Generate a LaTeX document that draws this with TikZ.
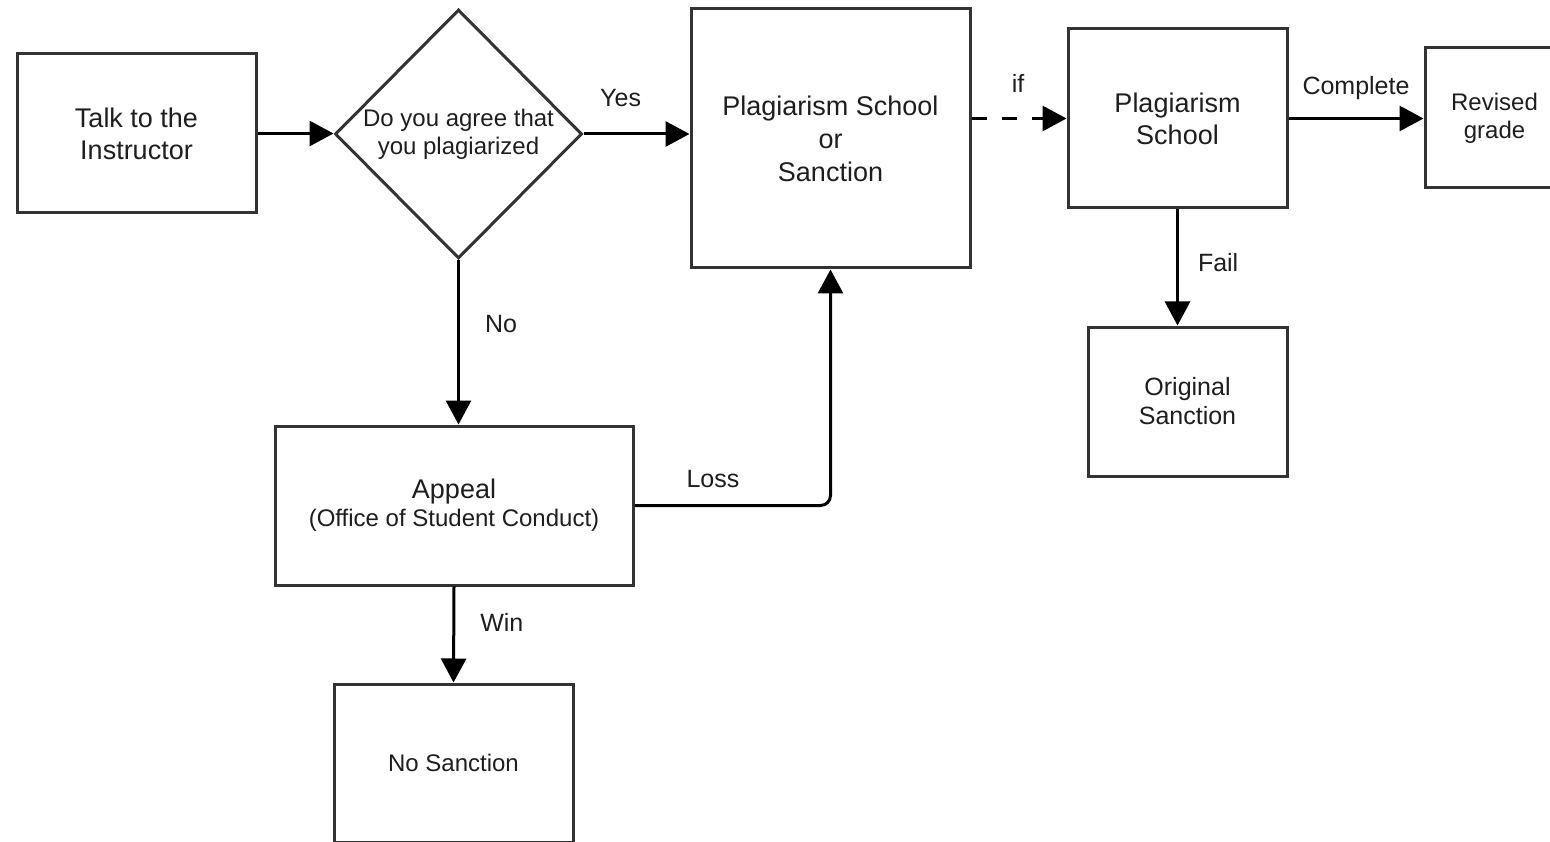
\documentclass[tikz,border=0pt]{standalone}
\usepackage{fontspec}
\setmainfont{Liberation Sans}
\usetikzlibrary{shapes.geometric,arrows.meta}
\definecolor{edgegray}{HTML}{333333}
\definecolor{inkgray}{HTML}{1E1E1E}
\newcommand{\boxfont}{\fontsize{27}{32}\selectfont}
\newcommand{\midfont}{\fontsize{24}{28}\selectfont}
\newcommand{\askfont}{\fontsize{24}{28}\selectfont}

\begin{document}
\begin{tikzpicture}[x=1pt,y=-1pt,
  box/.style={draw=edgegray,line width=3pt,inner sep=0pt,align=center,text=inkgray},
  ask/.style={box,diamond,minimum width=247pt,minimum height=249pt},
  flow/.style={line width=3pt,-{Triangle[length=24pt,width=25pt]}},
  lbl/.style={inner sep=0pt,text=inkgray,font=\fontsize{25}{30}\selectfont}]
\useasboundingbox (0,0) rectangle (1550,842);
\fill[white] (0,0) rectangle (1550,842);
% boxes
\node[box,minimum width=239pt,minimum height=159pt,font=\boxfont] (talk) at (136.5,133.5) {Talk to the\\Instructor};
\node[ask,font=\askfont] (agree) at (458.5,134) {Do you agree that\\you plagiarized};
\node[box,minimum width=279pt,minimum height=259pt,font=\fontsize{27}{33}\selectfont] (choice) at (830.5,138.5) {Plagiarism School\\or\\Sanction};
\node[box,minimum width=219pt,minimum height=179pt,font=\boxfont] (school) at (1177.5,118.5) {Plagiarism\\School};
\node[box,minimum width=139pt,minimum height=140pt,font=\midfont] (revised) at (1494.5,118) {Revised\\grade};
\node[box,minimum width=199pt,minimum height=149pt,font=\fontsize{25}{29}\selectfont] (orig) at (1187.5,401.5) {Original\\Sanction};
\node[box,minimum width=358pt,minimum height=159pt] (appeal) at (454,505.5)
  {{\fontsize{27}{29}\selectfont Appeal}\\[4pt]{\fontsize{24}{29}\selectfont (Office of Student Conduct)}};
\node[box,minimum width=239pt,minimum height=158pt,font=\midfont] (nosanc) at (453.5,763) {No Sanction};
% connectors
\draw[flow] (talk.east) -- (talk.east -| agree.west);
\draw[flow] (agree.east) -- (agree.east -| choice.west)
  node[lbl,pos=0.35,anchor=base,yshift=27.5pt] {Yes};
\draw[flow,dash pattern=on 15pt off 15pt] (school.west -| choice.east) -- (school.west)
  node[lbl,pos=0.49,anchor=base,yshift=26pt] {if};
\draw[flow] (school.east) -- (school.east -| revised.west)
  node[lbl,pos=0.5,anchor=base,yshift=24pt] {Complete};
\draw[flow] (school.south) -- (school.south |- orig.north)
  node[lbl,pos=0.46,anchor=west,xshift=19pt] {Fail};
\draw[flow] (agree.south) -- (agree.south |- appeal.north)
  node[lbl,pos=0.39,anchor=west,xshift=25pt] {No};
\draw[flow,rounded corners=10pt] (appeal.east) -| (choice.south)
  node[lbl,pos=0.2,anchor=base,yshift=18pt] {Loss};
\draw[flow] (appeal.south) -- (nosanc.north)
  node[lbl,pos=0.37,anchor=west,xshift=25pt] {Win};
\end{tikzpicture}
\end{document}
